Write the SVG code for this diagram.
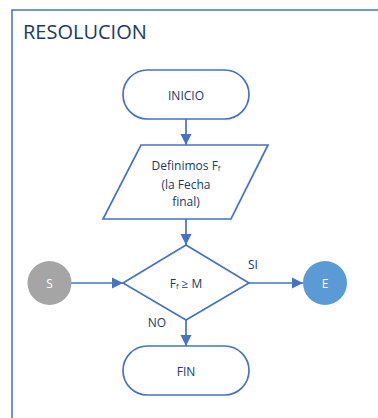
<svg xmlns="http://www.w3.org/2000/svg" width="378" height="418" viewBox="0 0 378 418">
  <style>
    .shape { fill: #ffffff; stroke: #4472C4; stroke-width: 1.7; }
    .line { fill: none; stroke: #4472C4; stroke-width: 1.7; }
    .lbl { font-family: "Open Sans", "Liberation Sans", sans-serif; font-size: 12px; fill: #203864; text-anchor: middle; dominant-baseline: central; }
    .inv { font-family: "Open Sans", "Liberation Sans", sans-serif; font-size: 12px; fill: #ffffff; text-anchor: middle; dominant-baseline: central; }
    .title { font-family: "Open Sans", "Liberation Sans", sans-serif; font-size: 20px; fill: #203864; }
  </style>
  <defs>
    <marker id="arrow" viewBox="0 0 10 10" refX="10" refY="5" markerWidth="6.5" markerHeight="6.5" orient="auto" markerUnits="strokeWidth">
      <path d="M0,0 L10,5 L0,10 z" fill="#4472C4"/>
    </marker>
  </defs>
  <rect width="378" height="418" fill="#ffffff"/>

  <!-- frame -->
  <path d="M12,420 L12,10 L380,10" fill="none" stroke="#4472C4" stroke-width="1.5"/>
  <text class="title" x="23" y="39">RESOLUCION</text>

  <!-- connectors -->
  <g id="connectors">
    <line class="line" x1="186" y1="119" x2="186" y2="145" marker-end="url(#arrow)"/>
    <line class="line" x1="186" y1="219" x2="186" y2="245" marker-end="url(#arrow)"/>
    <line class="line" x1="71" y1="283" x2="123" y2="283" marker-end="url(#arrow)"/>
    <line class="line" x1="249" y1="283" x2="303" y2="283" marker-end="url(#arrow)"/>
    <line class="line" x1="186" y1="320" x2="186" y2="346" marker-end="url(#arrow)"/>
    <text class="lbl" x="253" y="264">SI</text>
    <text class="lbl" x="157" y="322">NO</text>
  </g>

  <g id="inicio">
    <rect class="shape" x="123" y="70" width="126" height="49" rx="24.5"/>
    <text class="lbl" x="186" y="95">INICIO</text>
  </g>

  <g id="definimos">
    <polygon class="shape" points="141,145 268,145 231,219 103,219"/>
    <text class="lbl" x="186" y="165">Definimos F<tspan font-size="7.5" dy="3">f</tspan></text>
    <text class="lbl" x="186" y="184">(la Fecha</text>
    <text class="lbl" x="186" y="201">final)</text>
  </g>

  <g id="decision">
    <polygon class="shape" points="186,245 249,283 186,320 123,283"/>
    <text class="lbl" x="186" y="283">F<tspan font-size="7.5" dy="3">f</tspan><tspan dy="-3"> ≥ M</tspan></text>
  </g>

  <g id="start">
    <circle cx="49.5" cy="283" r="22" fill="#A5A5A5"/>
    <text class="inv" x="49.5" y="283">S</text>
  </g>

  <g id="end">
    <circle cx="325" cy="283" r="22" fill="#5B9BD5"/>
    <text class="inv" x="325" y="283">E</text>
  </g>

  <g id="fin">
    <rect class="shape" x="123" y="346" width="126" height="49" rx="24.5"/>
    <text class="lbl" x="186" y="371">FIN</text>
  </g>
</svg>
